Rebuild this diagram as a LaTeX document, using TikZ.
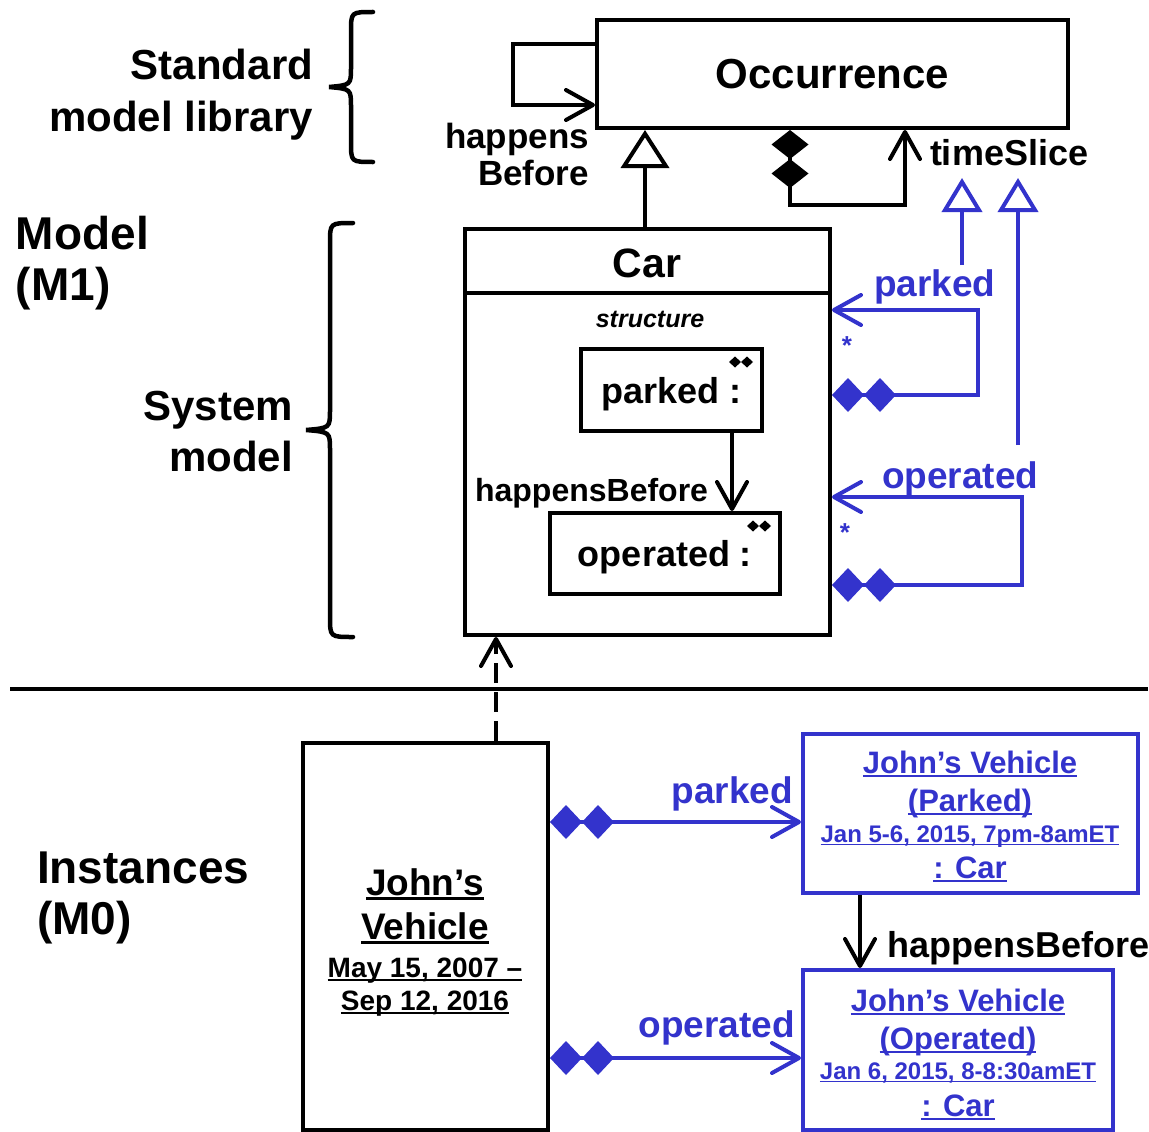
\documentclass[tikz,border=0pt]{standalone}
\usepackage{fontspec}
\setmainfont{Liberation Sans}
\usetikzlibrary{arrows.meta,calc}
\definecolor{ublue}{RGB}{51,51,204}
\newsavebox\myulbox
\newcommand{\myul}[1]{\leavevmode\sbox\myulbox{#1}\rlap{\rule[-0.14em]{\wd\myulbox}{0.075em}}\usebox\myulbox}
\newcommand{\fs}[1]{\fontsize{#1}{#1}\selectfont\bfseries}
% custom curly brace: x end, x spine, x tip, y top, y tip, y bottom
\newcommand{\drawbrace}[6]{\draw[line width=4.5pt,line cap=round] (#1,#4) .. controls (#2,#4) .. (#2,{#4+20}) -- (#2,{#5-20}) .. controls (#2,{#5-2}) .. (#3,#5) .. controls (#2,{#5+2}) .. (#2,{#5+20}) -- (#2,{#6-20}) .. controls (#2,#6) .. (#1,#6);}
\begin{document}
\begin{tikzpicture}[x=1pt,y=-1pt,line width=4pt,
  box/.style={draw,rectangle,inner sep=0pt,line width=4pt},
  bbox/.style={box,draw=ublue},
  lbl/.style={inner sep=0pt},
  arr/.style={-{Straight Barb[length=27pt,width=30pt,round]}},
  gen/.style={-{Triangle[open,length=38pt,width=48pt]}},
  bgen/.style={draw=ublue,-{Triangle[open,length=34pt,width=40pt]}},
  comp/.style={{Diamond[length=29pt,width=37pt,sep=0pt]Diamond[length=29pt,width=37pt]}-{Straight Barb[length=27pt,width=30pt,round]}},
  bcomp/.style={draw=ublue,{Diamond[length=32pt,width=34pt,sep=0pt]Diamond[length=32pt,width=34pt]}-{Straight Barb[length=27pt,width=30pt,round]}},
]
\useasboundingbox (0,0) rectangle (1149,1132);

% left labels
\node[lbl,anchor=base east] (std1) at (315,80) {\fs{42}Standard};
\node[lbl,anchor=base east] (std2) at (315,131) {\fs{42}model library};
\node[lbl,anchor=base west] (mod1) at (14,249) {\fs{46}Model};
\node[lbl,anchor=base west] (mod2) at (14,300) {\fs{46}(M1)};
\node[lbl,anchor=base east] (sys1) at (295,420) {\fs{42}System};
\node[lbl,anchor=base east] (sys2) at (295,471) {\fs{42}model};
\node[lbl,anchor=base west] (ins1) at (35,883) {\fs{46}Instances};
\node[lbl,anchor=base west] (ins2) at (35,934) {\fs{46}(M0)};

% braces
\drawbrace{373}{351}{329}{12}{87}{162}
\drawbrace{353}{330}{306}{223}{430}{637}

% Occurrence
\node[box,minimum width=471pt,minimum height=108pt,font=\fs{42}] (occ) at (832.5,74) {Occurrence};
\node[lbl,anchor=base east] (hb1) at (591,148) {\fs{35}happens};
\node[lbl,anchor=base east] (hb2) at (591,185) {\fs{35}Before};
\draw[arr] ([yshift=30pt]occ.west) -- ++(-82,0) |- ([yshift=-31pt]occ.west);
\node[lbl,anchor=base west] (ts) at (928,165) {\fs{36}timeSlice};
\draw[comp] ([xshift=-42.5pt]occ.south) -- ++(0,75) -| ([xshift=72.5pt]occ.south);

% Car
\node[box,minimum width=365pt,minimum height=406pt] (car) at (647.5,432) {};
\draw ([yshift=-66pt]car.north west) -- ([yshift=-66pt]car.north east);
\node[lbl,anchor=base] (carl) at (647,277) {\fs{41}Car};
\node[lbl,anchor=base] (str) at (650,327) {\fontsize{25}{25}\selectfont\bfseries\itshape structure};
\draw[gen] ([xshift=-2.5pt]car.north) -- ([xshift=-2.5pt]car.north |- occ.south);

% inner parts
\node[box,minimum width=181pt,minimum height=82pt,text depth=0pt,font=\fs{36}] (pk) at (671.5,390) {parked :};
\node[box,minimum width=230pt,minimum height=81pt,text depth=0pt,font=\fs{36}] (op) at (665,553.5) {operated :};
\fill ([xshift=-23pt,yshift=-15pt]pk.north east) ++(-12,0) -- ++(6,-5.5) -- ++(6,5.5) -- ++(6,-5.5) -- ++(6,5.5) -- ++(-6,5.5) -- ++(-6,-5.5) -- ++(-6,5.5) -- cycle;
\fill ([xshift=-23pt,yshift=-15pt]op.north east) ++(-12,0) -- ++(6,-5.5) -- ++(6,5.5) -- ++(6,-5.5) -- ++(6,5.5) -- ++(-6,5.5) -- ++(-6,-5.5) -- ++(-6,5.5) -- cycle;
\draw[arr] ([xshift=60.5pt]pk.south) -- ([xshift=60.5pt]pk.south |- op.north);
\node[lbl,anchor=base east] (hbi) at (710,501) {\fs{32}happensBefore};

% blue features
\draw[bcomp] ([yshift=37pt]car.east) -- ++(146,0) |- ([yshift=122pt]car.east);
\draw[bcomp] ([yshift=-153pt]car.east) -- ++(190,0) |- ([yshift=-65pt]car.east);
\node[lbl,anchor=base west,text=ublue] (bpk) at (872,296) {\fs{37}parked};
\node[lbl,anchor=base west,text=ublue] (bop) at (880,488) {\fs{37}operated};
\node[lbl,anchor=base,text=ublue] (st1) at (847,354) {\fs{26}*};
\node[lbl,anchor=base,text=ublue] (st2) at (845,541) {\fs{26}*};
\coordinate (g1t) at (962,178);
\coordinate (g2t) at (1018,178);
\coordinate (g1b) at (962,265);
\coordinate (g2b) at (1018,445);
\draw[bgen] (g1b) -- (g1t);
\draw[bgen] (g2b) -- (g2t);

% separator
\coordinate (hl1) at (10,689);
\coordinate (hl2) at (1148,689);
\draw (hl1) -- (hl2);

% instances
\node[box,minimum width=245pt,minimum height=387pt] (jv) at (425.5,936.5) {};
\draw[arr,dash pattern=on 20pt off 9pt] ([xshift=70.5pt]jv.north) -- ([xshift=70.5pt]jv.north |- car.south);
\node[lbl,anchor=base] (jv1) at (425,895) {\fs{37}\myul{John’s}};
\node[lbl,anchor=base] (jv2) at (425,939) {\fs{37}\myul{Vehicle}};
\node[lbl,anchor=base] (jv3) at (425,977) {\fs{28}\myul{May 15, 2007 –}};
\node[lbl,anchor=base] (jv4) at (425,1010) {\fs{28}\myul{Sep 12, 2016}};

\node[bbox,minimum width=335pt,minimum height=159pt] (pi) at (970.5,813.5) {};
\node[lbl,anchor=base,text=ublue] (pi1) at (970,773) {\fs{31}\myul{John’s Vehicle}};
\node[lbl,anchor=base,text=ublue] (pi2) at (970,811) {\fs{31}\myul{(Parked)}};
\node[lbl,anchor=base,text=ublue] (pi3) at (970,842) {\fs{24}\myul{Jan 5-6, 2015, 7pm-8amET}};
\node[lbl,anchor=base,text=ublue] (pi4) at (970,878) {\fs{31}\myul{: Car}};

\node[bbox,minimum width=310pt,minimum height=160pt] (oi) at (958,1050) {};
\node[lbl,anchor=base,text=ublue] (oi1) at (958,1011) {\fs{31}\myul{John’s Vehicle}};
\node[lbl,anchor=base,text=ublue] (oi2) at (958,1049) {\fs{31}\myul{(Operated)}};
\node[lbl,anchor=base,text=ublue] (oi3) at (958,1079) {\fs{24}\myul{Jan 6, 2015, 8-8:30amET}};
\node[lbl,anchor=base,text=ublue] (oi4) at (958,1116) {\fs{31}\myul{: Car}};

\draw[bcomp] ([yshift=114.5pt]jv.east) -- ([yshift=114.5pt]jv.east -| pi.west);
\draw[bcomp] ([yshift=-121.5pt]jv.east) -- ([yshift=-121.5pt]jv.east -| oi.west);
\draw[arr] ([xshift=-110.5pt]pi.south) -- ([xshift=-110.5pt]pi.south |- oi.north);
\node[lbl,anchor=base east,text=ublue] (bpk2) at (795,803) {\fs{37}parked};
\node[lbl,anchor=base east,text=ublue] (bop2) at (797,1037) {\fs{37}operated};
\node[lbl,anchor=base west] (hbb) at (885,957) {\fs{36}happensBefore};
\end{tikzpicture}
\end{document}
